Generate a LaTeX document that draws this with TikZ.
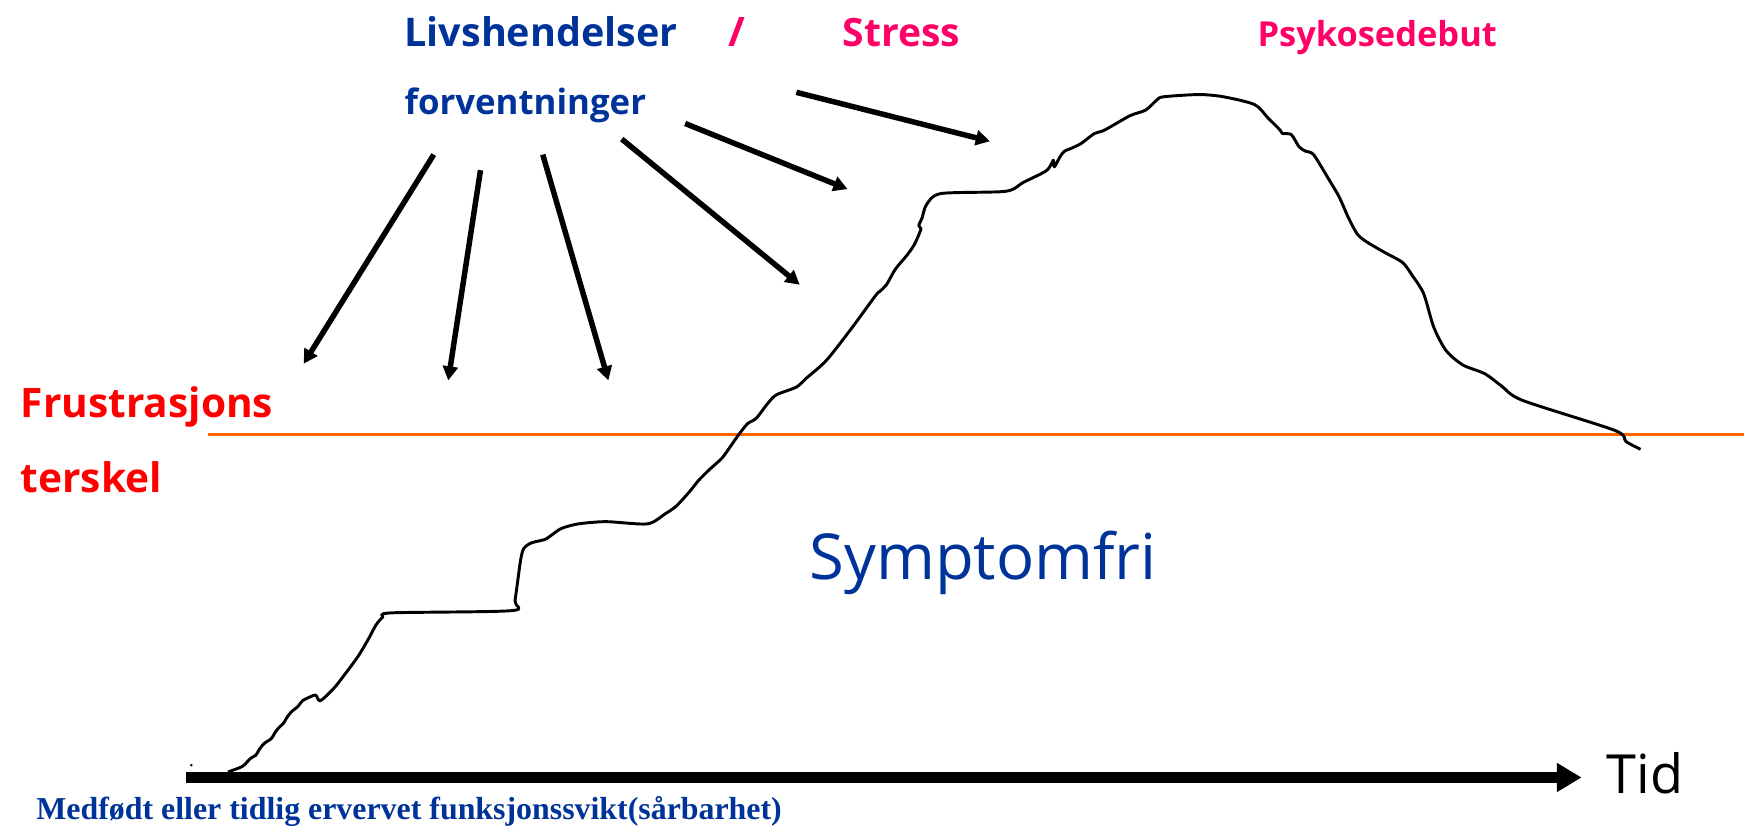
\documentclass[tikz,border=0pt]{standalone}
\usepackage{fontspec}
\setmainfont{Open Sans}
\newfontfamily\serifbf{Liberation Serif}
\usetikzlibrary{arrows.meta,positioning}
\definecolor{lifeblue}{HTML}{003399}
\definecolor{stresspink}{HTML}{FF0066}
\definecolor{frustred}{HTML}{FF0000}
\definecolor{tresh}{HTML}{FF6600}
\tikzset{
    hand/.style={font=\bfseries\fontsize{#1}{#1}\selectfont, anchor=base west, inner sep=0pt},
    handreg/.style={font=\fontsize{#1}{#1}\selectfont, anchor=base west, inner sep=0pt},
    push/.style={line width=1.4pt, -{Triangle[length=3.6pt,width=3.8pt]}},
}
\begin{document}
\begin{tikzpicture}[x=0.01cm,y=-0.01cm]
    \useasboundingbox (0,0) rectangle (1568,744);
    % labels on top
    \node[hand=10.1pt, text=lifeblue] (livs) at (363,42) {Livshendelser};
    \node[hand=10.4pt, text=stresspink] (slash) at (654,42) {/};
    \node[hand=10pt, text=stresspink] (stress) at (757,42) {Stress};
    \node[hand=8.8pt, text=stresspink] (debut) at (1130,42) {Psykosedebut};
    \node[hand=8.9pt, text=lifeblue] (forv) at (363,103) {forventninger};
    % threshold
    \node[hand=10.4pt, text=frustred] (frust) at (18,375) {Frustrasjons};
    \node[hand=10.4pt, text=frustred] (terskel) at (18,443) {terskel};
    \coordinate (t0) at (187,391);
    \coordinate (t1) at (1568,391);
    \draw[tresh, line width=0.75pt] (t0) -- (t1);
    \node[handreg=16.2pt, text=lifeblue] (fri) at (727,521) {Symptomfri};
    % time axis
    \coordinate (ax0) at (167,699);
    \coordinate (ax1) at (1422,699);
    \draw[line width=2.85pt, -{Triangle[length=6.3pt,width=7pt]}] (ax0) -- (ax1);
    \node[handreg=13.8pt] (tid) at (1444,713) {Tid};
    \node[font=\serifbf\bfseries\fontsize{8.15pt}{8.15pt}\selectfont, text=lifeblue, anchor=base west, inner sep=0pt] (sarb) at (32,737) {Medfødt eller tidlig ervervet funksjonssvikt(sårbarhet)};
    \fill (172,688) circle (1.3);
    % event arrows
    \coordinate (a1) at (390,139);  \coordinate (b1) at (273,327);
    \coordinate (a2) at (432,153);  \coordinate (b2) at (403,342);
    \coordinate (a3) at (488,139);  \coordinate (b3) at (547,342);
    \coordinate (a4) at (559,125);  \coordinate (b4) at (719,256);
    \coordinate (a5) at (616,111);  \coordinate (b5) at (762,170);
    \coordinate (a6) at (716,83);   \coordinate (b6) at (890,127);
    \foreach \i in {1,...,6}
        \draw[push] (a\i) -- (b\i);
    % symptom curve
    \draw[line width=0.75pt, line join=round] plot[smooth, tension=0.45] coordinates {
        (205,694) (218,689) (225,682) (230,679) (233,674) (236,670) (238,668)
        (244,664) (247,659) (250,655) (255,650) (258,645) (262,640) (268,635)
        (272,630) (280,626) (284,625) (288,630) (300,619) (311,605) (322,590)
        (331,575) (338,562) (344,555) (352,551) (460,549) (463,540) (468,504)
        (471,493) (478,488) (490,485) (496,481) (505,475) (520,471) (545,469)
        (582,471) (598,462) (608,455) (620,442) (628,432) (638,422) (649,412)
        (657,401) (664,391) (672,381) (680,376) (690,363) (698,355) (716,348)
        (725,340) (743,324) (765,296) (787,266) (791,262) (797,256) (805,242)
        (815,230) (822,220) (828,206) (826,203) (829,196) (833,184) (846,174)
        (904,172) (920,164) (940,154) (945,148) (947,144) (948,150) (953,141)
        (957,136) (964,133) (972,129) (984,120) (993,117) (1016,104) (1030,99)
        (1040,90) (1046,87) (1078,85) (1100,87) (1128,94) (1140,106) (1151,117)
        (1153,120) (1161,121) (1168,132) (1174,136) (1181,139) (1194,160)
        (1204,177) (1212,195) (1220,210) (1228,217) (1245,227) (1261,236)
        (1270,248) (1280,264) (1289,294) (1300,315) (1315,328) (1335,336)
        (1350,347) (1369,360) (1452,387) (1462,397) (1475,404)};
\end{tikzpicture}
\end{document}
